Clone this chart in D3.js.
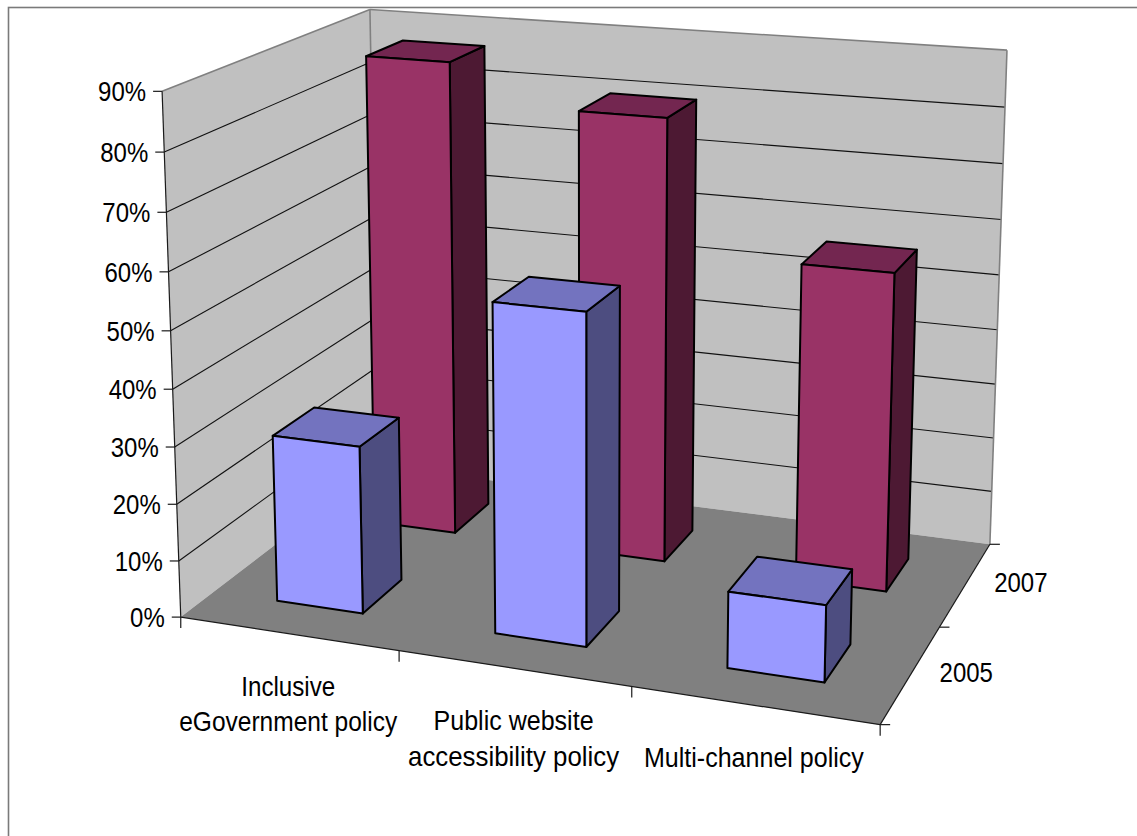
<!DOCTYPE html>
<html>
<head>
<meta charset="utf-8">
<script src="https://cdn.jsdelivr.net/npm/d3@7"></script>
<style>
  html, body { margin: 0; padding: 0; background: #fff; }
  svg { display: block; }
  text { font-family: "Liberation Sans", Arial, sans-serif; fill: #000; }
</style>
</head>
<body>
<svg id="chart" width="1137" height="836"></svg>
<script>
// Chart data
const categories = [
  ["Inclusive", "eGovernment policy"],
  ["Public website", "accessibility policy"],
  ["Multi-channel policy"]
];
const seriesNames = ["2005", "2007"];
const values2005 = [29.5, 56.8, 13];
const values2007 = [87, 80, 56.5];
const valueTicks = [0, 10, 20, 30, 40, 50, 60, 70, 80, 90];

// Rendered width of each category label line
const categoryLineWidths = [[94, 218], [160, 211], [220]];

// Screen position of the corners of the plot box, as [x, y, z] -> [px, py]
// x runs left to right, y upward, z from front to back.
const boxCorners = [
  [[0, 0, 0], [181, 618]],
  [[1, 0, 0], [880, 724]],
  [[0, 0, 1], [378, 465]],
  [[1, 0, 1], [990, 545]],
  [[0, 1, 0], [162, 91]],
  [[0, 1, 1], [370, 10]],
  [[1, 1, 1], [1007, 50]]
];

// Fit a pinhole camera to the box corners with least squares.
function fitCamera(pairs) {
  const rows = [], rhs = [];
  pairs.forEach(([[X, Y, Z], [u, v]]) => {
    rows.push([X, Y, Z, 1, 0, 0, 0, 0, -u * X, -u * Y, -u * Z]); rhs.push(u);
    rows.push([0, 0, 0, 0, X, Y, Z, 1, -v * X, -v * Y, -v * Z]); rhs.push(v);
  });
  const n = 11;
  const A = d3.range(n).map(i => d3.range(n + 1).map(j =>
    j < n ? d3.sum(rows, r => r[i] * r[j]) : d3.sum(rows, (r, k) => r[i] * rhs[k])));
  for (let c = 0; c < n; c++) {
    let p = c;
    for (let r = c + 1; r < n; r++) if (Math.abs(A[r][c]) > Math.abs(A[p][c])) p = r;
    [A[c], A[p]] = [A[p], A[c]];
    for (let r = 0; r < n; r++) {
      if (r === c) continue;
      const f = A[r][c] / A[c][c];
      for (let j = c; j <= n; j++) A[r][j] -= f * A[c][j];
    }
  }
  return d3.range(n).map(i => A[i][n] / A[i][i]);
}
const cam = fitCamera(boxCorners);
const project = ([X, Y, Z]) => {
  const w = cam[8] * X + cam[9] * Y + cam[10] * Z + 1;
  return [
    (cam[0] * X + cam[1] * Y + cam[2] * Z + cam[3]) / w,
    (cam[4] * X + cam[5] * Y + cam[6] * Z + cam[7]) / w
  ];
};

// Scales into the unit box
const xBand = d3.scaleBand().domain(d3.range(categories.length)).range([0, 1]).paddingInner(0.6).paddingOuter(0.3);
const xEdge = d3.scaleLinear().domain([0, categories.length]).range([0, 1]);
const zBand = d3.scaleBand().domain(seriesNames).range([0, 1]).paddingInner(0.6).paddingOuter(0.3);
const zEdge = d3.scaleLinear().domain([0, seriesNames.length]).range([0, 1]);
const yScale = d3.scaleLinear().domain([0, 90]).range([0, 1]);

const svg = d3.select("#chart");
const outline = d3.line().curve(d3.curveLinearClosed);
const face = pts => outline(pts.map(project));
const seg = (a, b) => d3.line()([project(a), project(b)]);

// Chart area frame, open past the window on the right and bottom
svg.append("rect").attr("x", 8.5).attr("y", 7.5).attr("width", 1200).attr("height", 900)
  .attr("fill", "#fff").attr("stroke", "#7a7a7a").attr("stroke-width", 1.6);

// Walls and floor
const walls = svg.append("g");
walls.append("path").attr("d", face([[0,0,0],[0,1,0],[0,1,1],[0,0,1]])).attr("fill", "#c0c0c0");
walls.append("path").attr("d", face([[0,0,1],[0,1,1],[1,1,1],[1,0,1]])).attr("fill", "#c0c0c0");
walls.append("path").attr("d", face([[0,0,0],[1,0,0],[1,0,1],[0,0,1]])).attr("fill", "#808080");

// Gridlines across both walls
const gridTicks = valueTicks.filter(t => t > 0 && t < 90);
const grid = svg.append("g").attr("stroke", "#111").attr("stroke-width", 1.1).attr("fill", "none");
grid.selectAll("path.l").data(gridTicks).join("path").attr("class", "l")
  .attr("d", t => seg([0, yScale(t), 0], [0, yScale(t), 1]));
grid.selectAll("path.b").data(gridTicks).join("path").attr("class", "b")
  .attr("d", t => seg([0, yScale(t), 1], [1, yScale(t), 1]));

// Wall edges
const edges = svg.append("g").attr("fill", "none").attr("stroke", "#808080").attr("stroke-width", 1.6);
edges.append("path").attr("d", seg([0,1,0],[0,1,1]));
edges.append("path").attr("d", seg([0,1,1],[1,1,1]));
edges.append("path").attr("d", seg([1,1,1],[1,0,1]));
edges.append("path").attr("d", seg([0,1,1],[0,0,1]));

// Axis lines and ticks
const axes = svg.append("g").attr("fill", "none").attr("stroke", "#1a1a1a").attr("stroke-width", 1.2);
axes.append("path").attr("d", seg([0,0,0],[0,1,0]));
axes.append("path").attr("d", seg([0,0,0],[1,0,0]));
axes.append("path").attr("d", seg([1,0,0],[1,0,1]));
axes.selectAll("path.vt").data(valueTicks).join("path").attr("class", "vt")
  .attr("d", t => { const [x, y] = project([0, yScale(t), 0]); return d3.line()([[x - 9, y], [x, y]]); });
axes.selectAll("path.ct").data(d3.range(categories.length + 1)).join("path").attr("class", "ct")
  .attr("d", i => { const [x, y] = project([xEdge(i), 0, 0]); return d3.line()([[x, y], [x, y + 11]]); });
axes.selectAll("path.st").data(d3.range(seriesNames.length + 1)).join("path").attr("class", "st")
  .attr("d", i => { const [x, y] = project([1, 0, zEdge(i)]); return d3.line()([[x, y], [x + 10, y]]); });

// Bars, drawn back row first
const rows = [
  { name: "2007", values: values2007, front: "#993366", side: "#4d1933", top: "#732650" },
  { name: "2005", values: values2005, front: "#9999ff", side: "#4d4d80", top: "#7373bf" }
];
rows.forEach(row => {
  const g = svg.append("g").selectAll("g").data(row.values).join("g")
    .attr("stroke", "#000").attr("stroke-width", 2).attr("stroke-linejoin", "round");
  const box = (v, i) => ({
    x0: xBand(i), x1: xBand(i) + xBand.bandwidth(),
    z0: zBand(row.name), z1: zBand(row.name) + zBand.bandwidth(),
    h: yScale(v)
  });
  g.append("path").attr("fill", row.side).attr("d", (v, i) => {
    const b = box(v, i);
    return face([[b.x1,0,b.z0],[b.x1,b.h,b.z0],[b.x1,b.h,b.z1],[b.x1,0,b.z1]]);
  });
  g.append("path").attr("fill", row.top).attr("d", (v, i) => {
    const b = box(v, i);
    return face([[b.x0,b.h,b.z0],[b.x1,b.h,b.z0],[b.x1,b.h,b.z1],[b.x0,b.h,b.z1]]);
  });
  g.append("path").attr("fill", row.front).attr("d", (v, i) => {
    const b = box(v, i);
    return face([[b.x0,0,b.z0],[b.x1,0,b.z0],[b.x1,b.h,b.z0],[b.x0,b.h,b.z0]]);
  });
});

// Labels keep the tall, narrow proportions of the chart's typeface
const labels = svg.append("g").attr("font-size", 24);
const placed = (x, y) => `translate(${x},${y}) scale(1,1.12)`;

labels.selectAll("text.v").data(valueTicks).join("text").attr("class", "v")
  .attr("text-anchor", "end")
  .attr("transform", t => {
    const [x, y] = project([0, yScale(t), 0]);
    return placed(x - 16, y + 10);
  })
  .text(t => t + "%");

categories.forEach((lines, i) => {
  const [x, y] = project([xEdge(i + 0.5), 0, 0]);
  labels.selectAll(null).data(lines).join("text")
    .attr("text-anchor", "middle")
    .attr("textLength", (d, k) => categoryLineWidths[i][k])
    .attr("lengthAdjust", "spacingAndGlyphs")
    .attr("transform", (d, k) => placed(x, y + 62 + k * 35.5))
    .text(d => d);
});

labels.selectAll("text.s").data(seriesNames).join("text").attr("class", "s")
  .attr("transform", (d, i) => {
    const [x, y] = project([1, 0, zEdge(i + 0.5)]);
    return placed(x + 28.5, y + 8);
  })
  .text(d => d);
</script>
</body>
</html>
